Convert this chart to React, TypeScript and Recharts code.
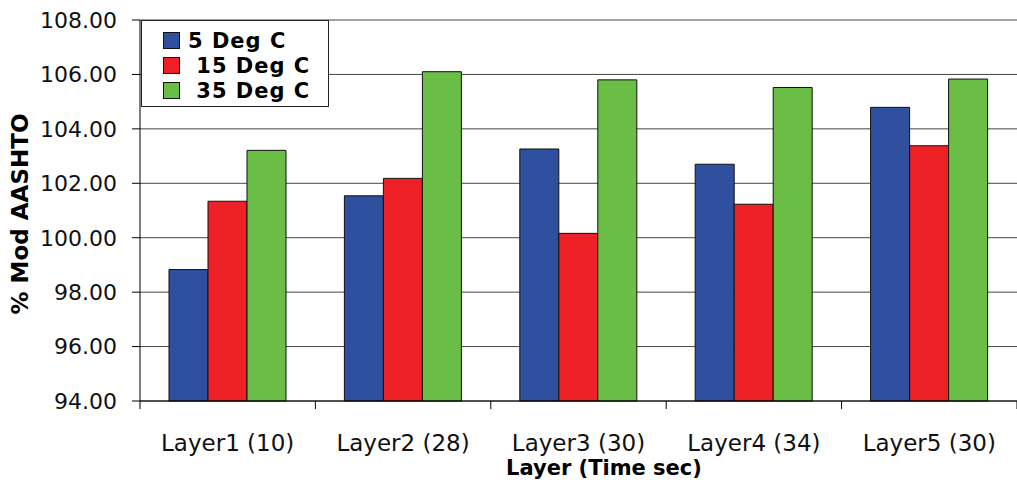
import { BarChart, Bar, XAxis, YAxis, CartesianGrid } from 'recharts'

const categories = ['Layer1 (10)', 'Layer2 (28)', 'Layer3 (30)', 'Layer4 (34)', 'Layer5 (30)']
const deg5 = [98.83, 101.54, 103.26, 102.7, 104.79]
const deg15 = [101.34, 102.18, 100.16, 101.23, 103.38]
const deg35 = [103.21, 106.1, 105.8, 105.52, 105.83]
const yTicks = [94, 96, 98, 100, 102, 104, 106, 108]
// leading spaces mimic the original legend text
const seriesNames = ['5 Deg C', ' 15 Deg C', ' 35 Deg C']
const seriesColors = ['#2F4F9F', '#EE2226', '#6BBE45']

const W = 1017
const H = 493
const Y_W = 140
const HALF_BAND = (W - Y_W) / categories.length / 2
const FONT = 'DejaVu Sans'

const data = categories.map((c, i) => ({
  name: c,
  d5: deg5[i],
  d15: deg15[i],
  d35: deg35[i],
}))

// eslint-disable-next-line @typescript-eslint/no-explicit-any
function XTick(props: any) {
  const { x, y, payload, index } = props
  return (
    <g>
      <line x1={x - HALF_BAND} y1={y} x2={x - HALF_BAND} y2={y + 8} stroke="#000" />
      {index === categories.length - 1 && (
        <line x1={x + HALF_BAND} y1={y} x2={x + HALF_BAND} y2={y + 8} stroke="#000" />
      )}
      <text x={x} y={y + 50} textAnchor="middle" fontSize={23} fill="#111" fontFamily={FONT}>
        {payload.value}
      </text>
    </g>
  )
}

function LegendBox() {
  return (
    <div
      style={{
        position: 'absolute',
        left: 141,
        top: 20,
        boxSizing: 'border-box',
        width: 188,
        height: 87,
        border: '1px solid #222',
        background: '#fff',
        paddingTop: 7,
        fontFamily: FONT,
      }}
    >
      {seriesNames.map((n, i) => (
        <div key={n} style={{ display: 'flex', alignItems: 'center', height: 25 }}>
          <span
            style={{
              boxSizing: 'border-box',
              display: 'inline-block',
              width: 17,
              height: 17,
              marginLeft: 21,
              marginRight: 8,
              background: seriesColors[i],
              border: '1px solid #111',
            }}
          />
          <span style={{ whiteSpace: 'pre', fontWeight: 'bold', fontSize: 21, letterSpacing: 1, color: '#000' }}>
            {n}
          </span>
        </div>
      ))}
    </div>
  )
}

export default function App() {
  return (
    <div style={{ position: 'relative', width: W, height: H }}>
      <style>{'body{margin:0}'}</style>
      <BarChart
        width={W}
        height={H}
        data={data}
        margin={{ top: 20, right: 0, left: 0, bottom: 0 }}
        barCategoryGap={29}
        barGap={0}
        style={{ fontFamily: FONT }}
      >
        <CartesianGrid vertical={false} stroke="#444" />
        <XAxis
          dataKey="name"
          height={92}
          axisLine={{ stroke: '#000' }}
          tickLine={false}
          tickSize={0}
          tickMargin={0}
          tick={<XTick />}
          interval={0}
          label={{
            content: () => (
              <text x={604} y={475} textAnchor="middle" fontSize={21} fontWeight="bold" fill="#000" fontFamily={FONT}>
                Layer (Time sec)
              </text>
            ),
          }}
        />
        <YAxis
          width={Y_W}
          domain={[94, 108]}
          ticks={yTicks}
          interval={0}
          tickFormatter={(v: number) => v.toFixed(2)}
          tick={{ fontSize: 22, fill: '#111' }}
          tickSize={8}
          tickMargin={15}
          axisLine={{ stroke: '#000' }}
          tickLine={{ stroke: '#000' }}
          label={{
            content: () => (
              <text
                x={20}
                y={214}
                transform="rotate(-90 20 214)"
                textAnchor="middle"
                dominantBaseline="central"
                fontSize={23}
                fontWeight="bold"
                fill="#000"
                fontFamily={FONT}
              >
                % Mod AASHTO
              </text>
            ),
          }}
        />
        <Bar dataKey="d5" name={seriesNames[0]} fill={seriesColors[0]} stroke="#111" strokeWidth={1} isAnimationActive={false} />
        <Bar dataKey="d15" name={seriesNames[1]} fill={seriesColors[1]} stroke="#111" strokeWidth={1} isAnimationActive={false} />
        <Bar dataKey="d35" name={seriesNames[2]} fill={seriesColors[2]} stroke="#111" strokeWidth={1} isAnimationActive={false} />
      </BarChart>
      <LegendBox />
    </div>
  )
}
